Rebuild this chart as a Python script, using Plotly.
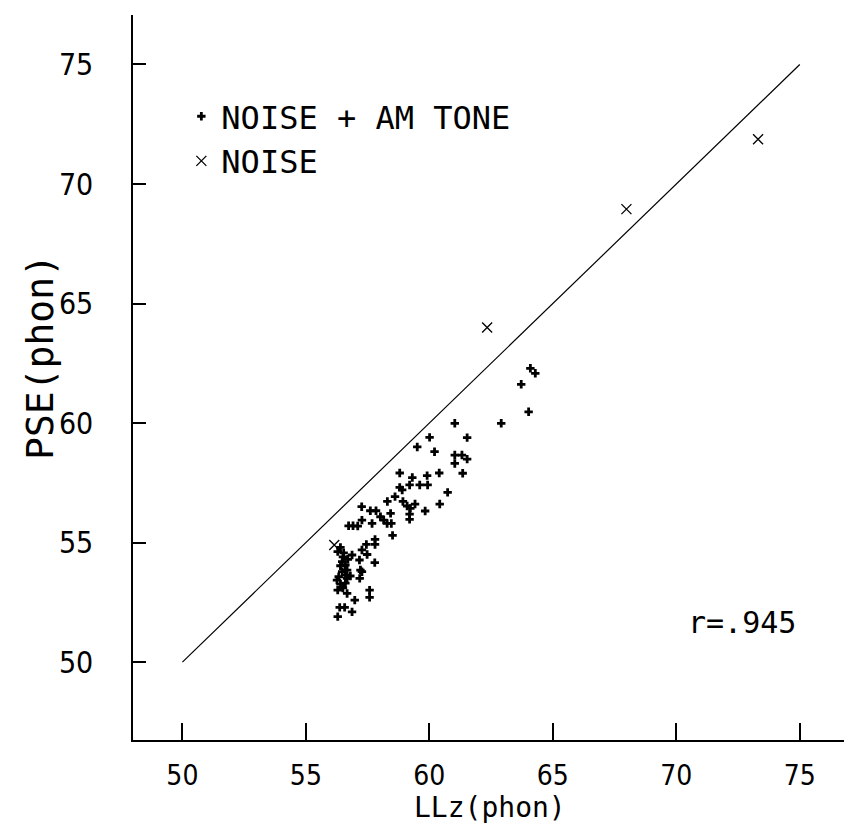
import plotly.graph_objects as go

# NOISE + AM TONE data (LLz, PSE)
am_x = [63.72, 64.02, 62.91, 61.03, 64.09, 64.29,
        61.53, 60.01, 59.51, 60.21,
        61.03, 61.03, 61.32, 61.53,
        61.35, 58.80, 60.40, 59.91, 59.31,
        59.61, 59.93, 59.20, 58.80, 58.90,
        60.74, 58.61, 58.30, 58.93, 60.42, 59.42, 59.10,
        57.26, 57.61, 57.84, 59.83, 58.43, 59.20, 59.20, 59.23,
        58.02, 58.15, 58.29, 58.46, 57.27, 57.68, 56.73, 56.91, 57.10,
        58.51, 57.80, 57.80, 57.45, 57.27, 56.29, 56.53, 56.87, 57.48,
        57.17, 57.79, 56.47, 56.40, 56.60, 56.67, 56.47, 56.60,
        57.21, 57.27, 56.33, 56.26, 56.40, 57.18, 56.67,
        56.29, 56.67, 57.58, 57.58, 56.98, 56.37, 56.57, 56.87, 56.29,
        56.50, 56.70, 56.40, 56.60, 56.80, 56.50]
am_y = [61.62, 60.47, 59.99, 59.99, 62.29, 62.08,
        59.39, 59.40, 59.00, 58.80,
        58.66, 58.31, 58.66, 58.49,
        57.90, 57.91, 57.91, 57.80, 57.72,
        57.41, 57.41, 57.41, 57.31, 57.20,
        57.10, 56.92, 56.72, 56.72, 56.61, 56.61, 56.53,
        56.50, 56.33, 56.33, 56.32, 56.22, 56.19, 55.97, 56.43,
        56.08, 55.94, 55.80, 55.80, 55.94, 55.80, 55.70, 55.70, 55.69,
        55.30, 55.13, 54.92, 54.92, 54.69, 54.62, 54.57, 54.48, 54.50,
        54.27, 54.16, 54.20, 54.03, 54.06, 53.85, 53.78, 53.64,
        53.85, 53.78, 53.57, 53.43, 53.26, 53.50, 53.50,
        53.01, 52.87, 53.01, 52.71, 52.59, 52.29, 52.29, 52.10, 51.90,
        54.40, 54.30, 54.80, 53.30, 53.60, 53.10]

# NOISE data
noise_x = [56.15, 62.34, 67.98, 73.31]
noise_y = [54.90, 64.00, 68.95, 71.87]

# Equality line
line_x = [50, 75]
line_y = [50, 75]

tick_vals = [50, 55, 60, 65, 70, 75]
tick_text = ["50", "55", "60", "65", "70", "75"]

NARROW = "DejaVu Sans Condensed, Liberation Sans Narrow, sans-serif"
MONO = "DejaVu Sans Mono, Liberation Mono, monospace"

fig = go.Figure()
fig.add_trace(go.Scatter(x=line_x, y=line_y, mode="lines",
                         line=dict(color="black", width=1.2), showlegend=False,
                         hoverinfo="skip"))
fig.add_trace(go.Scatter(x=am_x, y=am_y, mode="markers", name="NOISE + AM TONE",
                         marker=dict(symbol="cross", size=7, color="black")))
fig.add_trace(go.Scatter(x=noise_x, y=noise_y, mode="markers", name="NOISE",
                         marker=dict(symbol="x-thin", size=10,
                                     line=dict(color="black", width=1.3))))

fig.update_layout(
    width=844, height=825,
    margin=dict(l=133, r=0, t=15, b=85),
    paper_bgcolor="white", plot_bgcolor="white",
    showlegend=True,
    legend=dict(x=0.068, y=0.898, xanchor="left", yanchor="top",
                font=dict(family=MONO, size=32, color="black"),
                bgcolor="rgba(0,0,0,0)", itemsizing="trace",
                tracegroupgap=0),
    xaxis=dict(range=[48.0, 76.79], tickvals=tick_vals, ticktext=tick_text,
               ticks="inside", ticklen=17, tickwidth=1.5, tickcolor="black",
               showline=True, linecolor="black", linewidth=1.5,
               showgrid=False, zeroline=False, ticklabelstandoff=10,
               tickfont=dict(family=NARROW, size=28, color="black")),
    yaxis=dict(range=[46.74, 77.07], tickvals=tick_vals, ticktext=tick_text,
               ticks="inside", ticklen=13, tickwidth=1.5, tickcolor="black",
               showline=True, linecolor="black", linewidth=1.5,
               showgrid=False, zeroline=False, ticklabelstandoff=32,
               tickfont=dict(family=NARROW, size=30, color="black")),
)

fig.add_annotation(text="LLz(phon)", xref="paper", yref="paper",
                   x=(490 - 133) / 711, y=-(807 - 740) / 725,
                   xanchor="center", yanchor="middle", showarrow=False,
                   font=dict(family=MONO, size=28, color="black"))
fig.add_annotation(text="PSE(phon)", xref="paper", yref="paper",
                   x=-(133 - 40) / 711, y=(740 - 357) / 725, textangle=-90,
                   xanchor="center", yanchor="middle", showarrow=False,
                   font=dict(family=MONO, size=38, color="black"))
fig.add_annotation(text="r=.945", xref="paper", yref="paper",
                   x=(742 - 133) / 711, y=(740 - 622) / 725,
                   xanchor="center", yanchor="middle", showarrow=False,
                   font=dict(family=MONO, size=30, color="black"))

fig.write_html("out.html")
